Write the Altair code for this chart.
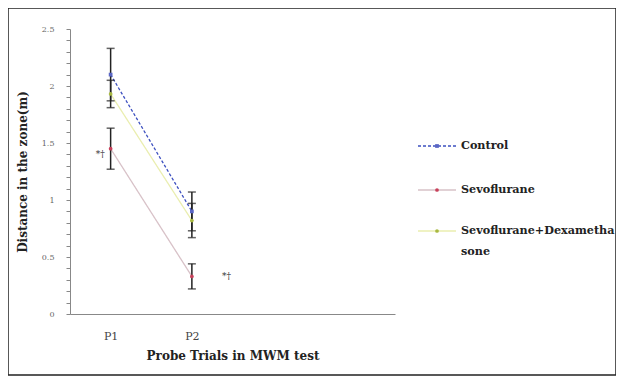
import altair as alt
import pandas as pd

# ---- data ----
trials = ["P1", "P2"]
x_domain = ["P1", "P2", "P3", "P4"]
series = ["Control", "Sevoflurane", "Sevoflurane+Dexamethasone"]
control_mean = [2.10, 0.90]
control_err = [0.23, 0.17]
sevo_mean = [1.45, 0.33]
sevo_err = [0.18, 0.11]
dexa_mean = [1.93, 0.82]
dexa_err = [0.12, 0.15]
annot_trial = ["P1", "P2"]
annot_value = [1.40, 0.33]
annot_text = ["*\u2020", "*\u2020"]

rows = []
for name, m, e in [(series[0], control_mean, control_err),
                   (series[1], sevo_mean, sevo_err),
                   (series[2], dexa_mean, dexa_err)]:
    for t, mv, ev in zip(trials, m, e):
        rows.append({"series": name, "trial": t, "mean": mv, "lo": mv - ev, "hi": mv + ev})
df = pd.DataFrame(rows)
ann = pd.DataFrame({"trial": annot_trial, "value": annot_value, "text": annot_text})

SERIF = "DejaVu Serif"
line_colors = {series[0]: "#3d50c0", series[1]: "#d8c2c8", series[2]: "#eaeeb0"}
pt_colors = {series[0]: "#5a66c4", series[1]: "#c8405a", series[2]: "#a8b840"}
dash = {series[0]: [3, 2], series[1]: [1, 0], series[2]: [1, 0]}
pt_shape = {series[0]: "square", series[1]: "circle", series[2]: "circle"}

xenc = alt.X("trial:O", scale=alt.Scale(type="point", domain=x_domain, padding=0.5),
             axis=alt.Axis(title="Probe Trials in MWM test", labelAngle=0,
                           labelExpr="indexof(['P1','P2'], datum.value) >= 0 ? datum.value : ''",
                           ticks=False, grid=False, domainColor="#888", labelFont=SERIF,
                           labelFontSize=11, labelColor="#444", labelPadding=16, titleFont=SERIF,
                           titleFontSize=12, titleFontWeight="bold", titleColor="#222",
                           titlePadding=9))
yscale = alt.Scale(domain=[0, 2.5], nice=False)
yaxis = alt.Axis(title="Distance in the zone(m)", values=[round(i * 0.1, 1) for i in range(26)],
                 labelExpr="(round(datum.value*10) % 5 == 0) ? format(datum.value, '') : ''",
                 grid=False, domainColor="#888", tickColor="#888", tickSize=4,
                 labelFont=SERIF, labelFontSize=8, labelColor="#666", labelPadding=12,
                 titleFont=SERIF, titleFontSize=12, titleFontWeight="bold", titleColor="#222",
                 titlePadding=12)

layers = []
for s in series:
    sub = alt.Chart(df[df.series == s])
    layers.append(sub.mark_line(color=line_colors[s], strokeDash=dash[s], strokeWidth=1.3)
                  .encode(x=xenc, y=alt.Y("mean:Q", scale=yscale, axis=yaxis)))
base = alt.Chart(df)
layers.append(base.mark_rule(color="#222", strokeWidth=1.5)
              .encode(x=xenc, y=alt.Y("lo:Q", scale=yscale, axis=yaxis), y2="hi:Q"))
layers.append(base.mark_tick(orient="horizontal", color="#222", size=8, thickness=1.5)
              .encode(x=xenc, y=alt.Y("lo:Q", scale=yscale, axis=yaxis)))
layers.append(base.mark_tick(orient="horizontal", color="#222", size=8, thickness=1.5)
              .encode(x=xenc, y=alt.Y("hi:Q", scale=yscale, axis=yaxis)))
for s in series:
    sub = alt.Chart(df[df.series == s])
    layers.append(sub.mark_point(shape=pt_shape[s], filled=True, color=pt_colors[s], size=14, opacity=1)
                  .encode(x=xenc, y=alt.Y("mean:Q", scale=yscale, axis=yaxis)))

annc = alt.Chart(ann)
layers.append(annc.transform_filter("datum.trial == 'P1'")
              .mark_text(align="right", dx=-6, font=SERIF, fontSize=9, color="#333")
              .encode(x=xenc, y=alt.Y("value:Q", scale=yscale, axis=yaxis), text="text:N"))
layers.append(annc.transform_filter("datum.trial == 'P2'")
              .mark_text(align="left", dx=30, font=SERIF, fontSize=9, color="#333")
              .encode(x=xenc, y=alt.Y("value:Q", scale=yscale, axis=yaxis), text="text:N"))

# manual legend
leg_y = [117, 161, 202]
leg_text = [series[0], series[1], ["Sevoflurane+Dexametha", "sone"]]
one = alt.Chart(pd.DataFrame({"a": [0]}))
for s, yy, tx in zip(series, leg_y, leg_text):
    layers.append(one.mark_rule(color=line_colors[s], strokeDash=dash[s], strokeWidth=1.3)
                  .encode(x=alt.value(348), x2=alt.value(386), y=alt.value(yy)))
    layers.append(one.mark_point(shape=pt_shape[s], filled=True, color=pt_colors[s], size=14, opacity=1)
                  .encode(x=alt.value(367), y=alt.value(yy)))
    layers.append(one.mark_text(align="left", baseline="middle", font=SERIF, fontSize=11.2,
                                fontWeight="bold", color="#222", lineHeight=21)
                  .encode(x=alt.value(391), y=alt.value(yy), text=alt.value(tx)))

# outer frame
layers.append(one.mark_rect(fill=None, stroke="#222", strokeWidth=1.5, clip=False)
              .encode(x=alt.value(-62), x2=alt.value(546), y=alt.value(-21), y2=alt.value(346)))

chart = alt.layer(*layers).properties(
    width=325, height=285,
    autosize=alt.AutoSizeParams(type="none"),
    padding={"left": 62, "top": 21, "right": 221, "bottom": 62},
).configure(background="white", view=alt.ViewConfig(stroke=None))

chart.save("out.html", embed_options={"renderer": "svg", "actions": False})
